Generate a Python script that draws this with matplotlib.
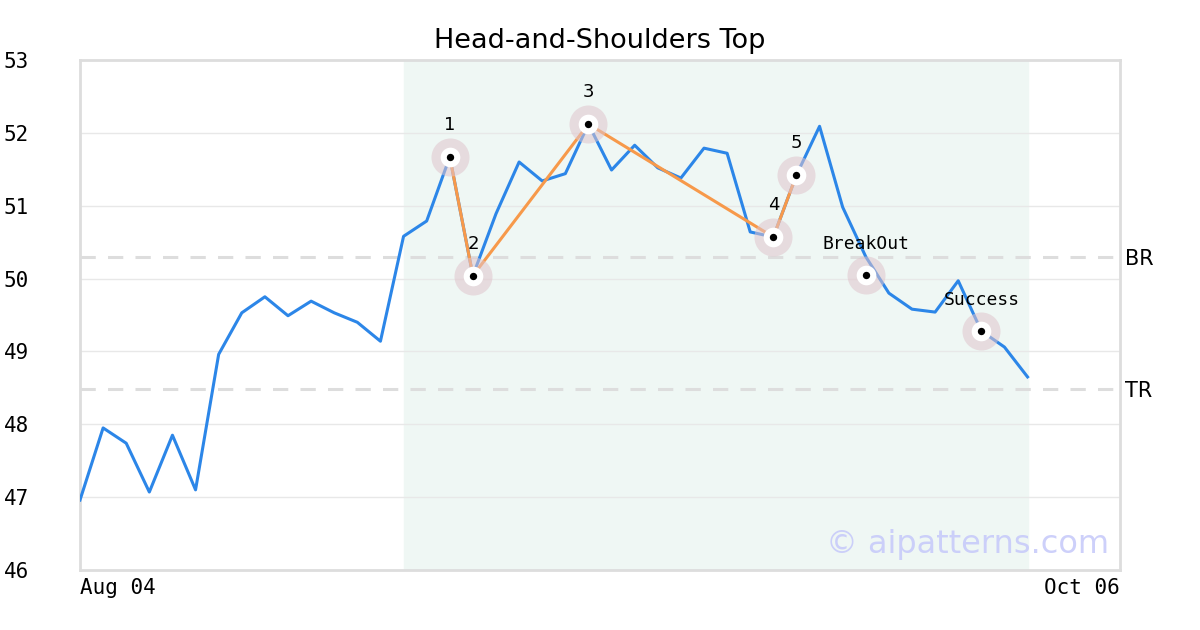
import numpy as np
import matplotlib
matplotlib.use("Agg")
import matplotlib.pyplot as plt

# closing prices, one per trading day from Aug 04
prices = [
    46.96, 47.95, 47.74, 47.07, 47.85, 47.10, 48.96, 49.53, 49.75, 49.49,
    49.69, 49.53, 49.40, 49.14, 50.58, 50.79, 51.67, 50.04, 50.89, 51.60,
    51.34, 51.44, 52.12, 51.49, 51.83, 51.52, 51.38, 51.79, 51.72, 50.64,
    50.57, 51.42, 52.09, 50.98, 50.30, 49.80, 49.58, 49.54, 49.97, 49.28,
    49.06, 48.65,
]

# pattern pivots 1..5
pivot_idx = [16, 17, 22, 30, 31]
pivot_val = [51.67, 50.04, 52.12, 50.57, 51.42]
pivot_lbl = ["1", "2", "3", "4", "5"]

# breakout / success markers
event_idx = [34, 39]
event_val = [50.05, 49.28]
event_lbl = ["BreakOut", "Success"]

breakout_level = 50.30
target_level = 48.48
pattern_span = (14, 41)
n_days = 45
date_labels = ["Aug 04", "Oct 06"]

fig, ax = plt.subplots(figsize=(12, 6.3), dpi=100)
fig.subplots_adjust(left=80 / 1200, right=1120 / 1200, top=1 - 60 / 630, bottom=1 - 570 / 630)

ax.axvspan(pattern_span[0], pattern_span[1], color="#eff7f4", zorder=0)

for lvl in range(47, 53):
    ax.axhline(lvl, color="#e8e8e8", linewidth=1, zorder=1)

ax.axhline(breakout_level, color="#dddddd", linestyle=(0, (5, 4)), linewidth=2.2, zorder=1)
ax.axhline(target_level, color="#dddddd", linestyle=(0, (5, 4)), linewidth=2.2, zorder=1)

x = np.arange(len(prices))
ax.plot(x, prices, color="#2c86e8", linewidth=2.2, zorder=3)
ax.plot(pivot_idx, pivot_val, color="#f7994a", linewidth=2.2, zorder=4)

all_idx = pivot_idx + event_idx
all_val = pivot_val + event_val
ax.scatter(all_idx, all_val, s=750, color="#e0c4cc", alpha=0.55, linewidths=0, zorder=5)
ax.scatter(all_idx, all_val, s=200, color="white", linewidths=0, zorder=6)
ax.scatter(all_idx, all_val, s=28, color="black", linewidths=0, zorder=7)

for i, v, t in zip(pivot_idx, pivot_val, pivot_lbl):
    ax.annotate(t, (i, v), xytext=(0, 23), textcoords="offset points",
                ha="center", va="center", fontsize=13, family="DejaVu Sans", zorder=8)
for i, v, t in zip(event_idx, event_val, event_lbl):
    ax.annotate(t, (i, v), xytext=(0, 22.5), textcoords="offset points",
                ha="center", va="center", fontsize=13, family="DejaVu Sans Mono", zorder=8)

ax.text(n_days + 0.2, breakout_level, "BR", ha="left", va="center_baseline", fontsize=15,
        family="DejaVu Sans", clip_on=False)
ax.text(n_days + 0.2, target_level, "TR", ha="left", va="center_baseline", fontsize=15,
        family="DejaVu Sans", clip_on=False)

ax.text(0.99, 0.05, "\u00a9 aipatterns.com", transform=ax.transAxes, ha="right", va="center",
        fontsize=23, color="#c5c8fa", alpha=0.85, zorder=9)

ax.set_xlim(0, n_days)
ax.set_ylim(46, 53)
ax.set_yticks(range(46, 54))
ax.set_xticks([0, n_days])
ax.set_xticklabels(date_labels)
for lab, ha in zip(ax.get_xticklabels(), ["left", "right"]):
    lab.set_ha(ha)
ax.tick_params(length=0, labelsize=15, pad=6)
ax.tick_params(axis="y", pad=55)
for lab in ax.get_yticklabels() + ax.get_xticklabels():
    lab.set_family("DejaVu Sans Mono")
    if lab in ax.get_yticklabels():
        lab.set_ha("left")

for sp in ax.spines.values():
    sp.set_color("#dddddd")
    sp.set_linewidth(2)

ax.set_title("Head-and-Shoulders Top", fontsize=19.5, family="DejaVu Sans", pad=9)

fig.savefig("out.png")
